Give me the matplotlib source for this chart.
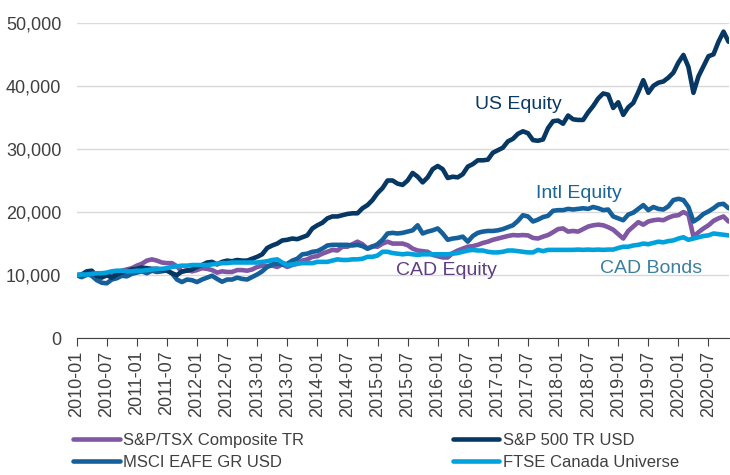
import matplotlib.pyplot as plt
from matplotlib.ticker import FuncFormatter
import pandas as pd

# growth of 10,000, monthly, 2010-01 .. 2020-11
months = pd.date_range('2010-01-01', '2020-11-01', freq='MS').strftime('%Y-%m').tolist()

sp_tsx = [10000, 9700, 10000, 10400, 10200, 9800, 9900, 10000, 10400, 10700, 10900, 11100,
          11500, 11800, 12300, 12500, 12300, 12000, 11900, 11900, 11400, 10500, 10800, 10600,
          10800, 11100, 11000, 10800, 10400, 10600, 10500, 10500, 10800, 10800, 10700, 10900,
          11300, 11500, 11400, 11500, 11300, 11700, 11300, 11600, 11800, 12300, 12500, 12900,
          13000, 13400, 13700, 14000, 13900, 14500, 14500, 14900, 15300, 14900, 14200, 14600,
          14500, 15000, 15300, 15000, 15000, 15000, 14750, 14200, 13900, 13800, 13700, 13200,
          13000, 12800, 12800, 13500, 13900, 14200, 14500, 14600, 14800, 15100, 15300, 15600,
          15800, 16000, 16200, 16350, 16300, 16350, 16300, 15900, 15800, 16100, 16350, 16800,
          17300, 17400, 16900, 17000, 16900, 17300, 17700, 17900, 18000, 17900, 17600, 17200,
          16500, 15800, 17000, 17700, 18400, 18000, 18500, 18700, 18800, 18700, 19100, 19400,
          19500, 20000, 19600, 16100, 16800, 17400, 17900, 18600, 19000, 19300, 18500]

sp500 = [10000, 10100, 10600, 10700, 9900, 9600, 10000, 9600, 10100, 10400, 10600, 10900,
         11000, 11200, 11100, 11000, 11000, 10800, 10700, 10300, 10000, 10600, 10700, 10900,
         11300, 11600, 12000, 12100, 11700, 12100, 12300, 12200, 12400, 12300, 12300, 12600,
         12900, 13300, 14300, 14700, 15000, 15500, 15600, 15800, 15700, 16000, 16300, 17400,
         17900, 18300, 19000, 19300, 19300, 19500, 19700, 19800, 19800, 20600, 21100, 21900,
         23000, 23800, 25000, 25000, 24500, 24300, 25000, 26200, 25600, 24700, 25500, 26800,
         27300, 26800, 25400, 25600, 25500, 26000, 27200, 27600, 28200, 28200, 28300, 29400,
         29800, 30200, 31200, 31600, 32400, 32800, 32500, 31400, 31300, 31500, 33300, 34400,
         34500, 34000, 35300, 34700, 34600, 34600, 35800, 36800, 38000, 38800, 38600, 36500,
         37400, 35400, 36600, 37300, 39000, 40900, 38900, 40000, 40500, 40700, 41300, 42100,
         43700, 44900, 43000, 38900, 41500, 43100, 44700, 45000, 47000, 48600, 47000]

msci_eafe = [10000, 9700, 10200, 9900, 9200, 8800, 8700, 9300, 9500, 9900, 9800, 10200,
             10400, 10600, 10300, 10700, 10500, 10600, 10800, 10300, 9300, 8900, 9300, 9200,
             8900, 9300, 9600, 9900, 9400, 8950, 9300, 9300, 9600, 9400, 9300, 9700,
             10100, 10600, 11300, 11700, 11800, 11700, 11800, 12300, 12600, 13300, 13400, 13700,
             13800, 14200, 14700, 14800, 14800, 14800, 14800, 14700, 14800, 14600, 14200, 14500,
             14900, 15600, 16600, 16700, 16600, 16700, 16900, 17100, 17900, 16600, 16900, 17100,
             17400, 16600, 15600, 15800, 15900, 16100, 15300, 16200, 16700, 16900, 17000, 17000,
             17100, 17300, 17600, 17900, 18600, 19500, 19300, 18500, 18800, 19200, 19400, 20200,
             20300, 20300, 20500, 20400, 20500, 20600, 20500, 20800, 20600, 20300, 20400, 19300,
             19000, 18700, 19600, 19900, 20500, 21100, 20300, 20800, 20500, 20400, 20900, 21900,
             22100, 21900, 20800, 18500, 19000, 19700, 20100, 20600, 21200, 21300, 20600]

ftse_canada = [10000, 10100, 10100, 10200, 10300, 10300, 10400, 10600, 10700, 10700, 10600, 10600,
               10700, 10700, 10800, 10900, 11000, 11000, 11100, 11300, 11400, 11500, 11500, 11600,
               11600, 11600, 11600, 11700, 11800, 11900, 11900, 12000, 12000, 12000, 12000, 12000,
               12000, 12100, 12200, 12400, 12500, 12000, 11600, 11700, 11800, 11900, 11900, 11900,
               12100, 12100, 12100, 12300, 12500, 12400, 12400, 12500, 12500, 12600, 12900, 12900,
               13100, 13700, 13700, 13500, 13400, 13300, 13400, 13300, 13200, 13300, 13300, 13300,
               13300, 13300, 13300, 13400, 13500, 13700, 13900, 14000, 13900, 13900, 13700, 13600,
               13600, 13700, 13900, 13900, 13800, 13700, 13600, 13600, 14000, 13800, 14000, 14000,
               14000, 14000, 14000, 14000, 14050, 14000, 14050, 14000, 14050, 14000, 14050, 14050,
               14300, 14500, 14500, 14700, 14800, 15000, 14900, 15100, 15300, 15200, 15400, 15500,
               15800, 16000, 15600, 15800, 16000, 16200, 16300, 16600, 16500, 16400, 16300]

names = ['S&P/TSX Composite TR', 'S&P 500 TR USD', 'MSCI EAFE GR USD', 'FTSE Canada Universe']
colors = ['#7f57a3', '#073763', '#15609a', '#00a2dd']

plt.rcParams['font.family'] = ['Liberation Sans', 'DejaVu Sans']

fig = plt.figure(figsize=(7.3, 4.75), dpi=100)
ax = fig.add_axes([0.105, 0.288, 0.893, 0.664])

x = list(range(len(months)))
# plot order = legend order (column-wise: TSX, MSCI | S&P 500, FTSE)
for series, name, c in [(sp_tsx, names[0], colors[0]), (msci_eafe, names[2], colors[2]),
                        (sp500, names[1], colors[1]), (ftse_canada, names[3], colors[3])]:
    ax.plot(x, series, color=c, lw=3.3, label=name, solid_capstyle='round', solid_joinstyle='round')

ax.set_ylim(0, 50000)
ax.set_xlim(0, len(months) - 1)
ax.set_yticks(range(0, 50001, 10000))
ax.yaxis.set_major_formatter(FuncFormatter(lambda v, p: f'{int(v):,}'))
ax.set_xticks(x[::6])
ax.set_xticklabels(months[::6], rotation=90)

ax.grid(axis='y', color='#d9d9d9', lw=1)
ax.set_axisbelow(True)
for s in ['top', 'right', 'left']:
    ax.spines[s].set_visible(False)
ax.spines['bottom'].set_color('#404040')
ax.tick_params(axis='y', length=0, labelsize=13, colors='#404040', pad=11)
ax.tick_params(axis='x', length=6, color='#404040', labelsize=13, labelcolor='#404040', pad=3)

ax.text(79.5, 37000, 'US Equity', color='#0b3a63', fontsize=14, va='center')
ax.text(91.6, 22900, 'Intl Equity', color='#1a6699', fontsize=14, va='center')
ax.text(63.7, 10800, 'CAD Equity', color='#5e3e83', fontsize=14, va='center')
ax.text(104.4, 11100, 'CAD Bonds', color='#3b7fa0', fontsize=14, va='center')

leg = fig.legend(ncol=2, loc='upper left', bbox_to_anchor=(0.089, 0.106), frameon=False,
                 borderpad=0, fontsize=12, handlelength=2.8, handletextpad=0.2,
                 columnspacing=8.9, labelspacing=0.4)
for t in leg.get_texts():
    t.set_color('#404040')

fig.savefig('out.png', dpi=100)
